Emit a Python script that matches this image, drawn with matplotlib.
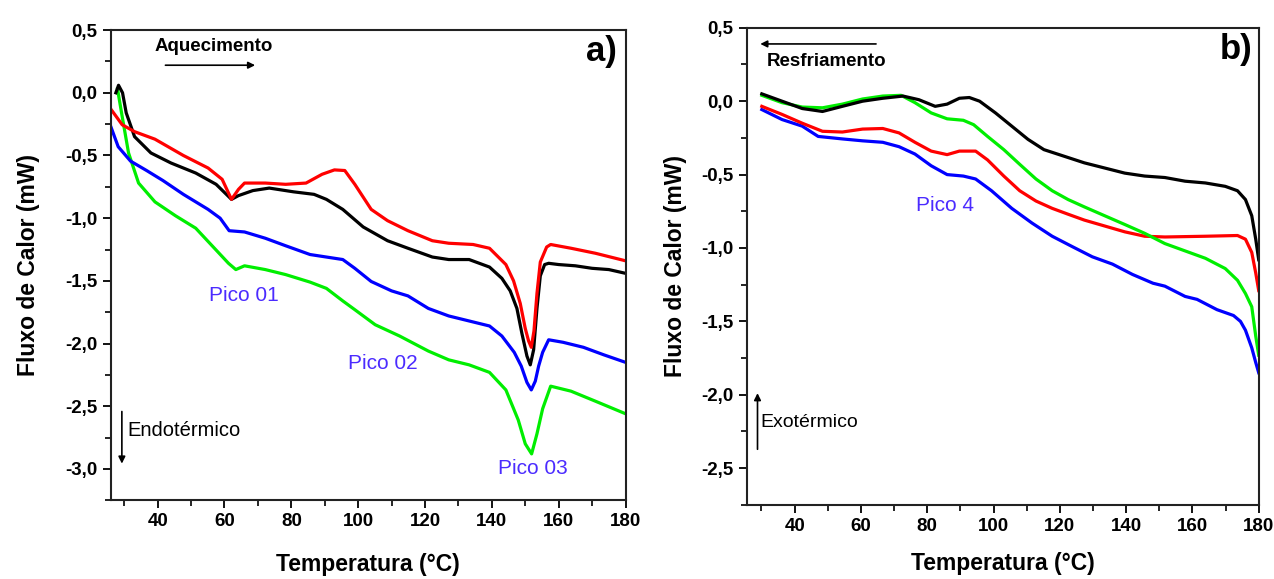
import numpy as np
import matplotlib
matplotlib.use("Agg")
import matplotlib.pyplot as plt
from matplotlib.ticker import MultipleLocator, FuncFormatter

plt.rcParams['font.family'] = ['Liberation Sans', 'DejaVu Sans']

# --- a) aquecimento : temperatura (°C) / fluxo (mW) ---
aq_preto_t = [27.5, 28.3, 29.5, 30.6, 33.1, 38.0, 44.0, 51.4, 57.5, 62.1, 64.2, 68.5, 73.4,
              80.7, 86.8, 90.5, 95.4, 101.5, 108.8, 114.9, 122.2, 127.1, 133.2, 139.3, 143.0,
              145.5, 147.5, 149.0, 150.5, 151.5, 152.5, 153.5, 154.5, 155.8, 157.0, 160.0,
              165.0, 170.0, 175.0, 180.0]
aq_preto_f = [0.0, 0.06, 0.0, -0.16, -0.35, -0.48, -0.56, -0.64, -0.73, -0.85, -0.82, -0.78, -0.76,
              -0.79, -0.81, -0.85, -0.93, -1.07, -1.18, -1.24, -1.31, -1.33, -1.33, -1.39, -1.48,
              -1.58, -1.72, -1.92, -2.10, -2.17, -2.05, -1.72, -1.46, -1.37, -1.36, -1.37,
              -1.38, -1.40, -1.41, -1.44]

aq_verm_t = [26.0, 29.4, 33.1, 39.2, 47.7, 55.1, 59.3, 62.1, 64.2, 66.0, 72.2, 78.3, 84.4,
             89.2, 92.9, 96.0, 99.0, 103.9, 108.8, 114.9, 122.2, 127.1, 134.4, 139.3, 144.2,
             146.5, 148.5, 150.0, 151.0, 151.8, 152.6, 153.5, 154.5, 156.4, 157.6, 163.7,
             171.0, 180.0]
aq_verm_f = [-0.13, -0.255, -0.31, -0.37, -0.50, -0.60, -0.69, -0.85, -0.77, -0.72, -0.72, -0.73, -0.72,
             -0.65, -0.615, -0.62, -0.73, -0.93, -1.02, -1.10, -1.18, -1.20, -1.21, -1.24, -1.37,
             -1.50, -1.68, -1.88, -1.98, -2.03, -1.90, -1.60, -1.35, -1.23, -1.21, -1.24,
             -1.28, -1.34]

aq_azul_t = [26.0, 28.2, 31.9, 36.7, 41.6, 47.7, 55.1, 58.7, 61.4, 66.0, 72.2, 78.3, 85.6,
             90.5, 95.4, 99.0, 103.9, 110.0, 114.9, 121.0, 127.1, 133.2, 139.3, 143.0, 146.7,
             148.8, 150.5, 151.8, 153.0, 154.0, 155.2, 157.0, 161.3, 167.4, 173.5, 180.0]
aq_azul_f = [-0.27, -0.43, -0.545, -0.62, -0.70, -0.81, -0.93, -1.00, -1.10, -1.11, -1.16, -1.22, -1.29,
             -1.31, -1.33, -1.40, -1.505, -1.58, -1.62, -1.72, -1.78, -1.82, -1.86, -1.94, -2.07,
             -2.18, -2.31, -2.37, -2.30, -2.18, -2.07, -1.97, -1.99, -2.03, -2.09, -2.15]

aq_verde_t = [28.0, 29.4, 31.3, 34.3, 39.2, 45.3, 51.4, 56.3, 61.2, 63.4, 66.0, 72.2, 78.3,
              85.6, 90.5, 95.4, 99.0, 105.1, 112.4, 121.0, 127.1, 133.2, 139.3, 144.2, 147.9,
              150.0, 151.9, 153.5, 155.2, 157.6, 163.7, 171.0, 180.0]
aq_verde_f = [0.03, -0.19, -0.48, -0.72, -0.87, -0.98, -1.08, -1.22, -1.36, -1.41, -1.38, -1.41, -1.45,
              -1.51, -1.56, -1.66, -1.73, -1.85, -1.94, -2.06, -2.13, -2.17, -2.23, -2.37, -2.61,
              -2.80, -2.88, -2.72, -2.52, -2.34, -2.38, -2.46, -2.56]

# --- b) resfriamento ---
rf_preto_t = [30.1, 36.2, 42.3, 48.4, 54.4, 60.5, 66.6, 72.7, 77.5, 82.4, 86.0, 89.7, 92.7,
              95.8, 100.6, 105.5, 110.4, 115.2, 121.3, 127.4, 133.5, 139.6, 145.6, 151.7, 157.8,
              163.9, 169.9, 173.6, 176.0, 177.9, 179.1, 180.0]
rf_preto_f = [0.05, 0.0, -0.05, -0.07, -0.035, 0.0, 0.02, 0.035, 0.01, -0.035, -0.02, 0.02, 0.025,
              0.0, -0.08, -0.17, -0.26, -0.33, -0.375, -0.42, -0.455, -0.49, -0.51, -0.52, -0.545,
              -0.557, -0.58, -0.61, -0.67, -0.78, -0.94, -1.08]

rf_verde_t = [30.1, 36.2, 42.3, 48.4, 54.4, 60.5, 66.6, 72.1, 76.3, 81.2, 86.0, 90.9, 94.0,
              98.2, 103.1, 107.9, 112.8, 117.7, 122.5, 127.4, 133.5, 139.6, 145.6, 151.7, 157.8,
              163.9, 169.9, 173.6, 176.0, 177.9, 179.1, 180.0]
rf_verde_f = [0.04, -0.01, -0.04, -0.045, -0.02, 0.015, 0.035, 0.04, -0.01, -0.08, -0.12, -0.13, -0.16,
              -0.24, -0.33, -0.43, -0.53, -0.61, -0.67, -0.72, -0.78, -0.84, -0.90, -0.97, -1.02,
              -1.07, -1.14, -1.22, -1.31, -1.40, -1.60, -1.73]

rf_verm_t = [30.1, 36.2, 42.3, 48.4, 54.4, 60.5, 66.6, 71.5, 76.3, 81.2, 86.0, 89.7, 94.6,
             98.2, 103.1, 107.9, 112.8, 117.7, 122.5, 127.4, 133.5, 139.6, 145.6, 151.7, 163.9,
             173.6, 176.0, 177.9, 179.1, 180.0]
rf_verm_f = [-0.035, -0.09, -0.15, -0.205, -0.21, -0.19, -0.186, -0.216, -0.28, -0.34, -0.364, -0.34, -0.34,
             -0.40, -0.51, -0.61, -0.68, -0.73, -0.77, -0.81, -0.85, -0.89, -0.92, -0.925, -0.92,
             -0.915, -0.94, -1.03, -1.17, -1.29]

rf_azul_t = [30.1, 36.2, 42.3, 47.1, 54.4, 60.5, 66.6, 71.5, 76.3, 81.2, 86.0, 90.9, 94.6,
             99.4, 105.5, 111.6, 117.7, 123.7, 129.8, 135.9, 141.9, 148.1, 151.7, 157.8, 161.4,
             167.4, 172.4, 174.5, 176.0, 177.9, 179.1, 180.0]
rf_azul_f = [-0.057, -0.125, -0.17, -0.24, -0.257, -0.27, -0.28, -0.31, -0.36, -0.44, -0.50, -0.51, -0.53,
             -0.61, -0.73, -0.83, -0.92, -0.99, -1.06, -1.11, -1.18, -1.24, -1.26, -1.33, -1.35,
             -1.42, -1.46, -1.50, -1.56, -1.68, -1.78, -1.85]

cores = {'preto': 'black', 'verm': '#ff0000', 'azul': '#0000ff', 'verde': '#00ee00'}
cor_pico = '#4b2bff'


def virgula(v, pos):
    return ('%.1f' % v).replace('.', ',')


def formata_eixo(ax, ylim, xlim, pad_x, pad_y):
    ax.set_xlim(*xlim)
    ax.set_ylim(*ylim)
    ax.xaxis.set_major_locator(MultipleLocator(20))
    ax.xaxis.set_minor_locator(MultipleLocator(10))
    ax.yaxis.set_major_locator(MultipleLocator(0.5))
    ax.yaxis.set_minor_locator(MultipleLocator(0.25))
    ax.yaxis.set_major_formatter(FuncFormatter(virgula))
    ax.tick_params(which='major', direction='out', length=6, width=1.3, labelsize=13.5)
    ax.tick_params(which='minor', direction='out', length=4, width=1.2)
    for lab in ax.get_xticklabels() + ax.get_yticklabels():
        lab.set_fontweight('bold')
    for s in ax.spines.values():
        s.set_linewidth(1.5)
        s.set_color('#222222')
    ax.set_xlabel('Temperatura (°C)', fontsize=16.5, fontweight='bold', labelpad=pad_x)
    ax.set_ylabel('Fluxo de Calor (mW)', fontsize=16.5, fontweight='bold', labelpad=pad_y)


fig = plt.figure(figsize=(12.74, 5.79), dpi=100)
ax1 = fig.add_axes([0.087, 0.136, 0.404, 0.812])
ax2 = fig.add_axes([0.586, 0.128, 0.402, 0.824])

lw = 2.3
ax1.plot(aq_verde_t, aq_verde_f, color=cores['verde'], lw=lw)
ax1.plot(aq_azul_t, aq_azul_f, color=cores['azul'], lw=lw)
ax1.plot(aq_preto_t, aq_preto_f, color=cores['preto'], lw=lw)
ax1.plot(aq_verm_t, aq_verm_f, color=cores['verm'], lw=lw)
formata_eixo(ax1, (-3.25, 0.5), (26, 180), 16, 18)

ax1.text(39.2, 0.37, 'Aquecimento', fontsize=13.5, fontweight='bold', va='center')
ax1.annotate('', xy=(70, 0.22), xytext=(41.5, 0.22),
             arrowprops=dict(arrowstyle='-|>', color='black', lw=1.2, mutation_scale=10))
ax1.text(177.5, 0.33, 'a)', fontsize=25, fontweight='bold', ha='right', va='center')
ax1.annotate('', xy=(29.3, -2.98), xytext=(29.3, -2.52),
             arrowprops=dict(arrowstyle='-|>', color='black', lw=1.2, mutation_scale=10))
ax1.text(31.0, -2.69, 'Endotérmico', fontsize=14.5, va='center')
ax1.text(65.8, -1.62, 'Pico 01', fontsize=15, color=cor_pico, ha='center', va='center')
ax1.text(107.3, -2.16, 'Pico 02', fontsize=15, color=cor_pico, ha='center', va='center')
ax1.text(152.2, -3.0, 'Pico 03', fontsize=15, color=cor_pico, ha='center', va='center')

ax2.plot(rf_azul_t, rf_azul_f, color=cores['azul'], lw=lw)
ax2.plot(rf_verm_t, rf_verm_f, color=cores['verm'], lw=lw)
ax2.plot(rf_verde_t, rf_verde_f, color=cores['verde'], lw=lw)
ax2.plot(rf_preto_t, rf_preto_f, color=cores['preto'], lw=lw)
formata_eixo(ax2, (-2.75, 0.5), (25.5, 180), 12, 10)

ax2.annotate('', xy=(28.8, 0.39), xytext=(65.4, 0.39),
             arrowprops=dict(arrowstyle='-|>', color='black', lw=1.2, mutation_scale=10))
ax2.text(31.5, 0.27, 'Resfriamento', fontsize=13.5, fontweight='bold', va='center')
ax2.text(178, 0.35, 'b)', fontsize=25, fontweight='bold', ha='right', va='center')
ax2.annotate('', xy=(28.8, -1.97), xytext=(28.8, -2.39),
             arrowprops=dict(arrowstyle='-|>', color='black', lw=1.2, mutation_scale=10))
ax2.text(29.8, -2.19, 'Exotérmico', fontsize=14, va='center')
ax2.text(85.3, -0.71, 'Pico 4', fontsize=15, color=cor_pico, ha='center', va='center')

fig.savefig('out.png', dpi=100)
